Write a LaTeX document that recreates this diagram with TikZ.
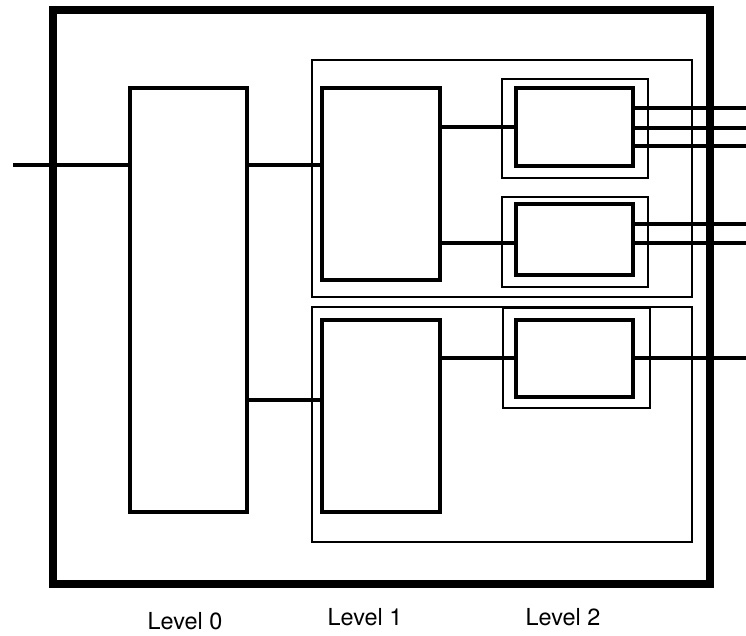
\documentclass[tikz,border=0pt]{standalone}
\usepackage{fontspec}
\setsansfont{TeX Gyre Heros}
\usetikzlibrary{fit,positioning}

\begin{document}
\begin{tikzpicture}[
        x=0.03cm, y=-0.03cm,
        font=\sffamily\fontsize{20}{23}\selectfont,
        frame/.style={draw, line width=6pt, inner sep=0pt},
        blockbox/.style={draw, line width=4pt, inner sep=0pt},
        groupbox/.style={draw, line width=2pt, inner sep=0pt},
        wire/.style={line width=3.2pt},
        lvl/.style={inner sep=0pt}
    ]

        \useasboundingbox (0,0) rectangle (746,636);

        % outer frame
        \node[frame, fit={(53,10) (710,584)}] (system) {};

        % level 0
        \node[blockbox, fit={(130,88) (247,512)}] (lzero) {};

        % level 1 groups
        \node[groupbox, fit={(312,60) (692,297)}] (groupA) {};
        \node[groupbox, fit={(312,307) (692,542)}] (groupB) {};
        \node[blockbox, fit={(322,88) (440,280)}] (loneA) {};
        \node[blockbox, fit={(322,320) (440,512)}] (loneB) {};

        % level 2 blocks
        \node[groupbox, fit={(502,79) (648,178)}] (shellA) {};
        \node[blockbox, fit={(516,88) (633,166)}] (ltwoA) {};
        \node[groupbox, fit={(502,197) (648,287)}] (shellB) {};
        \node[blockbox, fit={(516,204) (633,275)}] (ltwoB) {};
        \node[groupbox, fit={(503,308) (650,408)}] (shellC) {};
        \node[blockbox, fit={(516,320) (633,397)}] (ltwoC) {};

        % free ends
        \coordinate (input) at (13,165);
        \coordinate (outA1) at (746,108);
        \coordinate (outA2) at (746,128);
        \coordinate (outA3) at (746,146);
        \coordinate (outB1) at (746,224);
        \coordinate (outB2) at (746,243);
        \coordinate (outC1) at (746,358);

        \draw[wire] (input) -- (lzero.west |- input);
        \draw[wire] (lzero.east |- input) -- (loneA.west |- input);
        \draw[wire] (lzero.east |- 0,400) -- (loneB.west |- 0,400);
        \draw[wire] (loneA.east |- 0,127) -- (ltwoA.west |- 0,127);
        \draw[wire] (loneA.east |- 0,243) -- (ltwoB.west |- 0,243);
        \draw[wire] (loneB.east |- outC1) -- (ltwoC.west |- outC1);

        \draw[wire] (ltwoA.east |- outA1) -- (outA1);
        \draw[wire] (ltwoA.east |- outA2) -- (outA2);
        \draw[wire] (ltwoA.east |- outA3) -- (outA3);
        \draw[wire] (ltwoB.east |- outB1) -- (outB1);
        \draw[wire] (ltwoB.east |- outB2) -- (outB2);
        \draw[wire] (ltwoC.east |- outC1) -- (outC1);

        % labels
        \node[lvl] (labzero) at (185,621) {Level 0};
        \node[lvl] (labone) at (365,617) {Level 1};
        \node[lvl] (labtwo) at (563,617) {Level 2};

    \end{tikzpicture}
\end{document}
